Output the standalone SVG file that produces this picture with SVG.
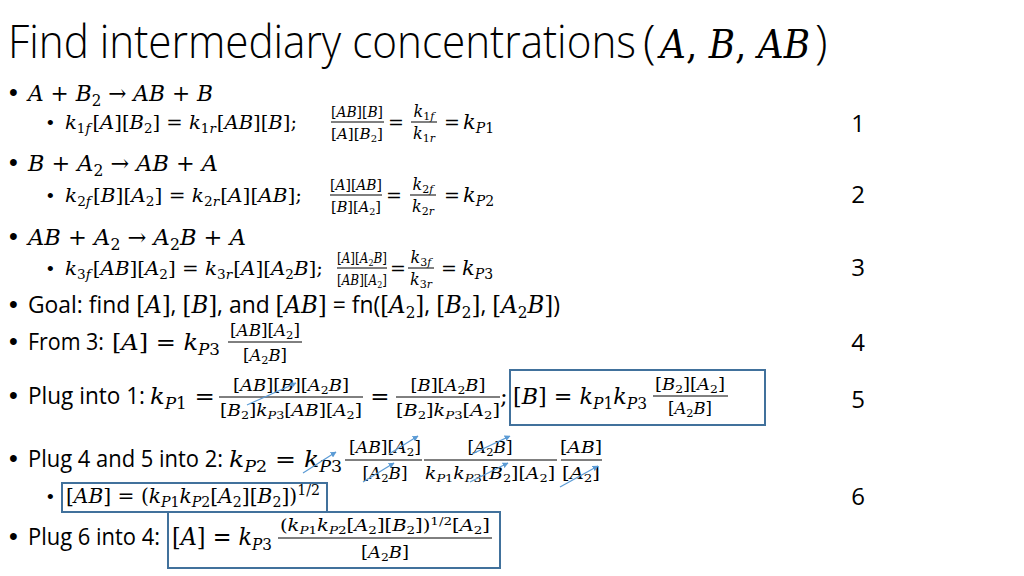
<svg xmlns="http://www.w3.org/2000/svg" width="1024" height="576" viewBox="0 0 1024 576">
<style>
.t{font-family:"Open Sans","Liberation Sans",sans-serif;fill:#000}
.m{font-family:"DejaVu Serif","Liberation Serif",serif;fill:#000}
.i{font-style:italic}
.b{font-family:"Liberation Sans",sans-serif;fill:#000}
.c{text-anchor:middle}
.fl{stroke:#000;stroke-width:1}
.box{fill:none;stroke:#41719C;stroke-width:2}
.ar{stroke:#5B9BD5;stroke-width:1.2;fill:none;marker-end:url(#ah)}
</style>
<defs>
<marker id="ah" viewBox="0 0 10 10" refX="9" refY="5" markerWidth="6" markerHeight="6" orient="auto" markerUnits="userSpaceOnUse">
<path d="M0,0 L10,5 L0,10 z" fill="#5B9BD5"/>
</marker>
</defs>
<rect width="1024" height="576" fill="#fff"/>

<g id="title">
<text class="t" x="8" y="58" font-size="46" font-weight="300" textLength="628" lengthAdjust="spacingAndGlyphs">Find intermediary concentrations</text>
<text class="t" x="643" y="58" font-size="46" font-weight="300">(</text>
<text class="m i" x="660" y="58" font-size="40" textLength="150" lengthAdjust="spacingAndGlyphs">A<tspan font-style="normal">, </tspan>B<tspan font-style="normal">, </tspan>AB</text>
<text class="t" x="815" y="58" font-size="46" font-weight="300">)</text>
</g>

<g id="bullets">
<text class="b" x="9" y="101" font-size="25">•</text>
<text class="b" x="9" y="171" font-size="25">•</text>
<text class="b" x="9" y="245" font-size="25">•</text>
<text class="b" x="9" y="313" font-size="25">•</text>
<text class="b" x="9" y="350" font-size="25">•</text>
<text class="b" x="9" y="404" font-size="25">•</text>
<text class="b" x="9" y="467" font-size="25">•</text>
<text class="b" x="9" y="545" font-size="25">•</text>
<text class="b" x="47" y="129" font-size="19">•</text>
<text class="b" x="47" y="202" font-size="19">•</text>
<text class="b" x="47" y="275" font-size="19">•</text>
<text class="b" x="47" y="503" font-size="19">•</text>
</g>

<g id="numbers">
<text class="t c" x="858" y="132" font-size="24">1</text>
<text class="t c" x="858" y="203" font-size="24">2</text>
<text class="t c" x="858" y="276" font-size="24">3</text>
<text class="t c" x="858" y="351" font-size="24">4</text>
<text class="t c" x="858" y="408" font-size="24">5</text>
<text class="t c" x="858" y="505" font-size="24">6</text>
</g>

<g id="reaction1">
<text class="m" x="28" y="101" font-size="23" textLength="185" lengthAdjust="spacingAndGlyphs"><tspan class="i">A</tspan> + <tspan class="i">B</tspan><tspan font-size="16" dy="5">2</tspan><tspan dy="-5"> → </tspan><tspan class="i">AB</tspan> + <tspan class="i">B</tspan></text>
<text class="m" x="65" y="129" font-size="19" textLength="232" lengthAdjust="spacingAndGlyphs"><tspan class="i">k</tspan><tspan font-size="13" dy="4">1<tspan class="i">f</tspan></tspan><tspan dy="-4" dx="2">[</tspan><tspan class="i">A</tspan>][<tspan class="i">B</tspan><tspan font-size="13" dy="4">2</tspan><tspan dy="-4">] = </tspan><tspan class="i">k</tspan><tspan font-size="13" dy="4">1<tspan class="i">r</tspan></tspan><tspan dy="-4" dx="1">[</tspan><tspan class="i">AB</tspan>][<tspan class="i">B</tspan>];</text>
<text class="m c" x="357" y="117" font-size="15" textLength="52" lengthAdjust="spacingAndGlyphs">[<tspan class="i">AB</tspan>][<tspan class="i">B</tspan>]</text>
<line class="fl" x1="331" y1="122" x2="384" y2="122"/>
<text class="m c" x="357" y="139" font-size="15" textLength="52" lengthAdjust="spacingAndGlyphs">[<tspan class="i">A</tspan>][<tspan class="i">B</tspan><tspan font-size="10" dy="3">2</tspan><tspan dy="-3">]</tspan></text>
<text class="m c" x="396" y="129" font-size="19">=</text>
<text class="m c" x="424" y="117" font-size="16"><tspan class="i">k</tspan><tspan font-size="11" dy="3">1<tspan class="i">f</tspan></tspan></text>
<line class="fl" x1="411" y1="122" x2="437" y2="122"/>
<text class="m c" x="424" y="139" font-size="16"><tspan class="i">k</tspan><tspan font-size="11" dy="3">1<tspan class="i">r</tspan></tspan></text>
<text class="m c" x="452" y="129" font-size="19">=</text>
<text class="m" x="463" y="129" font-size="21"><tspan class="i">k</tspan><tspan font-size="14" dy="4"><tspan class="i">P</tspan>1</tspan></text>
</g>

<g id="reaction2">
<text class="m" x="28" y="171" font-size="23" textLength="190" lengthAdjust="spacingAndGlyphs"><tspan class="i">B</tspan> + <tspan class="i">A</tspan><tspan font-size="16" dy="5">2</tspan><tspan dy="-5"> → </tspan><tspan class="i">AB</tspan> + <tspan class="i">A</tspan></text>
<text class="m" x="65" y="202" font-size="19" textLength="237" lengthAdjust="spacingAndGlyphs"><tspan class="i">k</tspan><tspan font-size="13" dy="4">2<tspan class="i">f</tspan></tspan><tspan dy="-4" dx="2">[</tspan><tspan class="i">B</tspan>][<tspan class="i">A</tspan><tspan font-size="13" dy="4">2</tspan><tspan dy="-4">] = </tspan><tspan class="i">k</tspan><tspan font-size="13" dy="4">2<tspan class="i">r</tspan></tspan><tspan dy="-4" dx="1">[</tspan><tspan class="i">A</tspan>][<tspan class="i">AB</tspan>];</text>
<text class="m c" x="356" y="190" font-size="15" textLength="52" lengthAdjust="spacingAndGlyphs">[<tspan class="i">A</tspan>][<tspan class="i">AB</tspan>]</text>
<line class="fl" x1="330" y1="195" x2="382" y2="195"/>
<text class="m c" x="356" y="212" font-size="15" textLength="50" lengthAdjust="spacingAndGlyphs">[<tspan class="i">B</tspan>][<tspan class="i">A</tspan><tspan font-size="10" dy="3">2</tspan><tspan dy="-3">]</tspan></text>
<text class="m c" x="394" y="202" font-size="19">=</text>
<text class="m c" x="423" y="190" font-size="16"><tspan class="i">k</tspan><tspan font-size="11" dy="3">2<tspan class="i">f</tspan></tspan></text>
<line class="fl" x1="410" y1="195" x2="436" y2="195"/>
<text class="m c" x="423" y="212" font-size="16"><tspan class="i">k</tspan><tspan font-size="11" dy="3">2<tspan class="i">r</tspan></tspan></text>
<text class="m c" x="452" y="202" font-size="19">=</text>
<text class="m" x="463" y="202" font-size="21"><tspan class="i">k</tspan><tspan font-size="14" dy="4"><tspan class="i">P</tspan>2</tspan></text>
</g>

<g id="reaction3">
<text class="m" x="28" y="245" font-size="23" textLength="218" lengthAdjust="spacingAndGlyphs"><tspan class="i">AB</tspan> + <tspan class="i">A</tspan><tspan font-size="16" dy="5">2</tspan><tspan dy="-5"> → </tspan><tspan class="i">A</tspan><tspan font-size="16" dy="5">2</tspan><tspan dy="-5" class="i">B</tspan> + <tspan class="i">A</tspan></text>
<text class="m" x="65" y="275" font-size="19" textLength="258" lengthAdjust="spacingAndGlyphs"><tspan class="i">k</tspan><tspan font-size="13" dy="4">3<tspan class="i">f</tspan></tspan><tspan dy="-4" dx="2">[</tspan><tspan class="i">AB</tspan>][<tspan class="i">A</tspan><tspan font-size="13" dy="4">2</tspan><tspan dy="-4">] = </tspan><tspan class="i">k</tspan><tspan font-size="13" dy="4">3<tspan class="i">r</tspan></tspan><tspan dy="-4" dx="1">[</tspan><tspan class="i">A</tspan>][<tspan class="i">A</tspan><tspan font-size="13" dy="4">2</tspan><tspan dy="-4" class="i">B</tspan>];</text>
<text class="m c" x="362" y="263" font-size="15" textLength="50" lengthAdjust="spacingAndGlyphs">[<tspan class="i">A</tspan>][<tspan class="i">A</tspan><tspan font-size="10" dy="3">2</tspan><tspan dy="-3" class="i">B</tspan>]</text>
<line class="fl" x1="337" y1="268" x2="387" y2="268"/>
<text class="m c" x="362" y="285" font-size="15" textLength="50" lengthAdjust="spacingAndGlyphs">[<tspan class="i">AB</tspan>][<tspan class="i">A</tspan><tspan font-size="10" dy="3">2</tspan><tspan dy="-3">]</tspan></text>
<text class="m c" x="398" y="275" font-size="19">=</text>
<text class="m c" x="421" y="263" font-size="16"><tspan class="i">k</tspan><tspan font-size="11" dy="3">3<tspan class="i">f</tspan></tspan></text>
<line class="fl" x1="408" y1="268" x2="434" y2="268"/>
<text class="m c" x="421" y="285" font-size="16"><tspan class="i">k</tspan><tspan font-size="11" dy="3">3<tspan class="i">r</tspan></tspan></text>
<text class="m c" x="449" y="275" font-size="19">=</text>
<text class="m" x="462" y="275" font-size="21"><tspan class="i">k</tspan><tspan font-size="14" dy="4"><tspan class="i">P</tspan>3</tspan></text>
</g>

<g id="goal">
<text class="t" x="28" y="313" font-size="24" textLength="532" lengthAdjust="spacingAndGlyphs">Goal: find <tspan class="m">[<tspan class="i">A</tspan>]</tspan>, <tspan class="m">[<tspan class="i">B</tspan>]</tspan>, and <tspan class="m">[<tspan class="i">AB</tspan>]</tspan> = fn(<tspan class="m">[<tspan class="i">A</tspan><tspan font-size="16" dy="5">2</tspan><tspan dy="-5">]</tspan></tspan>, <tspan class="m">[<tspan class="i">B</tspan><tspan font-size="16" dy="5">2</tspan><tspan dy="-5">]</tspan></tspan>, <tspan class="m">[<tspan class="i">A</tspan><tspan font-size="16" dy="5">2</tspan><tspan dy="-5" class="i">B</tspan>]</tspan>)</text>
</g>

<g id="from3">
<text class="t" x="28" y="350" font-size="24" textLength="76" lengthAdjust="spacingAndGlyphs">From 3:</text>
<text class="m" x="112" y="350" font-size="23" textLength="108" lengthAdjust="spacingAndGlyphs">[<tspan class="i">A</tspan>] = <tspan class="i">k</tspan><tspan font-size="16" dy="5"><tspan class="i">P</tspan>3</tspan></text>
<text class="m c" x="265" y="336" font-size="16" textLength="70" lengthAdjust="spacingAndGlyphs">[<tspan class="i">AB</tspan>][<tspan class="i">A</tspan><tspan font-size="11" dy="3">2</tspan><tspan dy="-3">]</tspan></text>
<line class="fl" x1="228" y1="342" x2="302" y2="342"/>
<text class="m c" x="265" y="361" font-size="16" textLength="44" lengthAdjust="spacingAndGlyphs">[<tspan class="i">A</tspan><tspan font-size="11" dy="3">2</tspan><tspan dy="-3" class="i">B</tspan>]</text>
</g>

<g id="plug1">
<text class="t" x="28" y="404" font-size="24" textLength="117" lengthAdjust="spacingAndGlyphs">Plug into 1:</text>
<text class="m" x="150" y="404" font-size="23" textLength="65" lengthAdjust="spacingAndGlyphs"><tspan class="i">k</tspan><tspan font-size="16" dy="5"><tspan class="i">P</tspan>1</tspan><tspan dy="-5"> =</tspan></text>
<text class="m c" x="291" y="391" font-size="16" textLength="116" lengthAdjust="spacingAndGlyphs">[<tspan class="i">AB</tspan>][<tspan class="i">B</tspan>][<tspan class="i">A</tspan><tspan font-size="11" dy="3">2</tspan><tspan dy="-3" class="i">B</tspan>]</text>
<line class="fl" x1="219" y1="397" x2="363" y2="397"/>
<text class="m c" x="291" y="416" font-size="16" textLength="142" lengthAdjust="spacingAndGlyphs">[<tspan class="i">B</tspan><tspan font-size="11" dy="3">2</tspan><tspan dy="-3">]</tspan><tspan class="i">k</tspan><tspan font-size="11" dy="3"><tspan class="i">P</tspan>3</tspan><tspan dy="-3">[</tspan><tspan class="i">AB</tspan>][<tspan class="i">A</tspan><tspan font-size="11" dy="3">2</tspan><tspan dy="-3">]</tspan></text>
<text class="m c" x="380" y="404" font-size="23">=</text>
<text class="m c" x="448" y="391" font-size="16" textLength="75" lengthAdjust="spacingAndGlyphs">[<tspan class="i">B</tspan>][<tspan class="i">A</tspan><tspan font-size="11" dy="3">2</tspan><tspan dy="-3" class="i">B</tspan>]</text>
<line class="fl" x1="396" y1="397" x2="500" y2="397"/>
<text class="m c" x="448" y="416" font-size="16" textLength="104" lengthAdjust="spacingAndGlyphs">[<tspan class="i">B</tspan><tspan font-size="11" dy="3">2</tspan><tspan dy="-3">]</tspan><tspan class="i">k</tspan><tspan font-size="11" dy="3"><tspan class="i">P</tspan>3</tspan><tspan dy="-3">[</tspan><tspan class="i">A</tspan><tspan font-size="11" dy="3">2</tspan><tspan dy="-3">]</tspan></text>
<text class="m" x="500" y="404" font-size="23">;</text>
<text class="m" x="513" y="404" font-size="23" textLength="134" lengthAdjust="spacingAndGlyphs">[<tspan class="i">B</tspan>] = <tspan class="i">k</tspan><tspan font-size="16" dy="5"><tspan class="i">P</tspan>1</tspan><tspan dy="-5" class="i">k</tspan><tspan font-size="16" dy="5"><tspan class="i">P</tspan>3</tspan></text>
<text class="m c" x="690" y="390" font-size="16" textLength="70" lengthAdjust="spacingAndGlyphs">[<tspan class="i">B</tspan><tspan font-size="11" dy="3">2</tspan><tspan dy="-3">][</tspan><tspan class="i">A</tspan><tspan font-size="11" dy="3">2</tspan><tspan dy="-3">]</tspan></text>
<line class="fl" x1="653" y1="396" x2="728" y2="396"/>
<text class="m c" x="690" y="414" font-size="16" textLength="44" lengthAdjust="spacingAndGlyphs">[<tspan class="i">A</tspan><tspan font-size="11" dy="3">2</tspan><tspan dy="-3" class="i">B</tspan>]</text>
<rect class="box" x="510" y="370" width="255" height="55"/>
</g>

<g id="plug45">
<text class="t" x="28" y="467" font-size="24" textLength="195" lengthAdjust="spacingAndGlyphs">Plug 4 and 5 into 2:</text>
<text class="m" x="229" y="467" font-size="23" textLength="113" lengthAdjust="spacingAndGlyphs"><tspan class="i">k</tspan><tspan font-size="16" dy="5"><tspan class="i">P</tspan>2</tspan><tspan dy="-5"> = </tspan><tspan class="i">k</tspan><tspan font-size="16" dy="5"><tspan class="i">P</tspan>3</tspan></text>
<text class="m c" x="385" y="453" font-size="16" textLength="72" lengthAdjust="spacingAndGlyphs">[<tspan class="i">AB</tspan>][<tspan class="i">A</tspan><tspan font-size="11" dy="3">2</tspan><tspan dy="-3">]</tspan></text>
<line class="fl" x1="345" y1="460" x2="422" y2="460"/>
<text class="m c" x="385" y="479" font-size="16" textLength="45" lengthAdjust="spacingAndGlyphs">[<tspan class="i">A</tspan><tspan font-size="11" dy="3">2</tspan><tspan dy="-3" class="i">B</tspan>]</text>
<text class="m c" x="490" y="453" font-size="16" textLength="45" lengthAdjust="spacingAndGlyphs">[<tspan class="i">A</tspan><tspan font-size="11" dy="3">2</tspan><tspan dy="-3" class="i">B</tspan>]</text>
<line class="fl" x1="424" y1="460" x2="557" y2="460"/>
<text class="m c" x="490" y="479" font-size="16" textLength="130" lengthAdjust="spacingAndGlyphs"><tspan class="i">k</tspan><tspan font-size="11" dy="3"><tspan class="i">P</tspan>1</tspan><tspan dy="-3" class="i">k</tspan><tspan font-size="11" dy="3"><tspan class="i">P</tspan>3</tspan><tspan dy="-3">[</tspan><tspan class="i">B</tspan><tspan font-size="11" dy="3">2</tspan><tspan dy="-3">][</tspan><tspan class="i">A</tspan><tspan font-size="11" dy="3">2</tspan><tspan dy="-3">]</tspan></text>
<text class="m c" x="581" y="453" font-size="16" textLength="42" lengthAdjust="spacingAndGlyphs">[<tspan class="i">AB</tspan>]</text>
<line class="fl" x1="561" y1="460" x2="602" y2="460"/>
<text class="m c" x="581" y="479" font-size="16" textLength="38" lengthAdjust="spacingAndGlyphs">[<tspan class="i">A</tspan><tspan font-size="11" dy="3">2</tspan><tspan dy="-3">]</tspan></text>
</g>

<g id="result6">
<text class="m" x="66" y="503" font-size="20" textLength="254" lengthAdjust="spacingAndGlyphs">[<tspan class="i">AB</tspan>] = (<tspan class="i">k</tspan><tspan font-size="14" dy="4"><tspan class="i">P</tspan>1</tspan><tspan dy="-4" class="i">k</tspan><tspan font-size="14" dy="4"><tspan class="i">P</tspan>2</tspan><tspan dy="-4">[</tspan><tspan class="i">A</tspan><tspan font-size="14" dy="4">2</tspan><tspan dy="-4">][</tspan><tspan class="i">B</tspan><tspan font-size="14" dy="4">2</tspan><tspan dy="-4">])</tspan><tspan font-size="14" dy="-8">1/2</tspan></text>
<rect class="box" x="62" y="483" width="265" height="29"/>
</g>

<g id="plug6">
<text class="t" x="28" y="545" font-size="24" textLength="132" lengthAdjust="spacingAndGlyphs">Plug 6 into 4:</text>
<text class="m" x="172" y="545" font-size="25" textLength="100" lengthAdjust="spacingAndGlyphs">[<tspan class="i">A</tspan>] = <tspan class="i">k</tspan><tspan font-size="17" dy="5"><tspan class="i">P</tspan>3</tspan></text>
<text class="m c" x="385" y="531" font-size="16" textLength="210" lengthAdjust="spacingAndGlyphs">(<tspan class="i">k</tspan><tspan font-size="11" dy="3"><tspan class="i">P</tspan>1</tspan><tspan dy="-3" class="i">k</tspan><tspan font-size="11" dy="3"><tspan class="i">P</tspan>2</tspan><tspan dy="-3">[</tspan><tspan class="i">A</tspan><tspan font-size="11" dy="3">2</tspan><tspan dy="-3">][</tspan><tspan class="i">B</tspan><tspan font-size="11" dy="3">2</tspan><tspan dy="-3">])</tspan><tspan font-size="11" dy="-6">1/2</tspan><tspan dy="6">[</tspan><tspan class="i">A</tspan><tspan font-size="11" dy="3">2</tspan><tspan dy="-3">]</tspan></text>
<line class="fl" x1="278" y1="538" x2="492" y2="538"/>
<text class="m c" x="385" y="558" font-size="16" textLength="48" lengthAdjust="spacingAndGlyphs">[<tspan class="i">A</tspan><tspan font-size="11" dy="3">2</tspan><tspan dy="-3" class="i">B</tspan>]</text>
<rect class="box" x="168" y="512" width="332" height="56"/>
</g>

<g id="connectors">
<line class="ar" x1="247" y1="405" x2="296" y2="383"/>
<line class="ar" x1="303" y1="473" x2="336" y2="452"/>
<line class="ar" x1="389" y1="454" x2="418" y2="436"/>
<line class="ar" x1="363" y1="482" x2="394" y2="463"/>
<line class="ar" x1="472" y1="454" x2="510" y2="436"/>
<line class="ar" x1="470" y1="482" x2="508" y2="463"/>
<line class="ar" x1="560" y1="487" x2="598" y2="466"/>
</g>
</svg>
